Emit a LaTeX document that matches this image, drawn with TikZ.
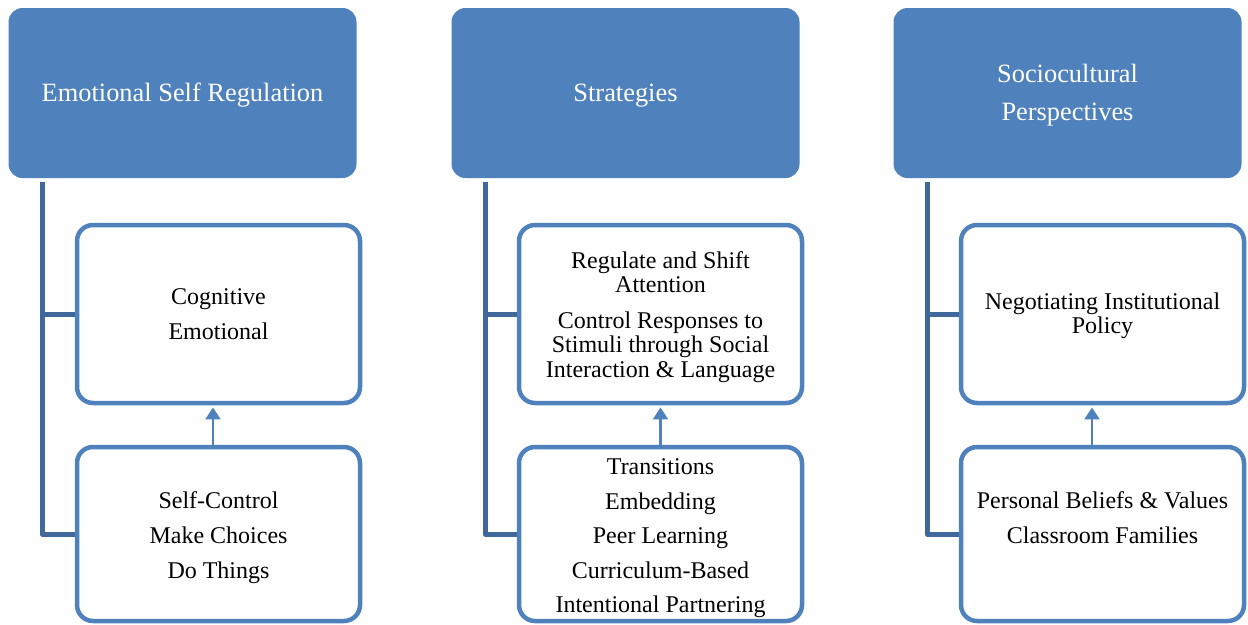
\documentclass[tikz,border=0pt]{standalone}
\usepackage{fontspec}
\setmainfont{Liberation Serif}
\usetikzlibrary{arrows.meta}
\definecolor{hdrblue}{HTML}{4F81BD}
\definecolor{treeblue}{HTML}{41689A}
% invisible rule that lowers a centred text block by half its extra height
\newcommand\toppad[1]{\rule{0pt}{#1}}
\tikzset{
  header/.style={fill=hdrblue, rounded corners=14pt, minimum width=348pt,
    minimum height=170pt, text=white, inner sep=0pt, align=center,
    font=\fontsize{26.4}{38}\selectfont},
  item/.style={draw=hdrblue, line width=4.5pt, rounded corners=16pt, fill=white,
    minimum width=283pt, inner sep=0pt, align=center,
    font=\fontsize{24}{24.5}\selectfont},
  upper/.style={item, minimum height=178pt},
  lower/.style={item, minimum height=174pt},
  tree/.style={draw=treeblue, line width=5pt, line join=round},
  uparrow/.style={draw=hdrblue, line width=2.5pt, shorten >=2.2pt,
    -{Triangle[length=12pt,width=15pt]}}
}
\begin{document}
\begin{tikzpicture}[x=1pt,y=-1pt]
\useasboundingbox (0,0) rectangle (1248,624);

% column headers
\node[header] (h1) at (182.5,93) {\toppad{23.5pt}Emotional Self Regulation};
\node[header] (h2) at (625.5,93) {\toppad{23.5pt}Strategies};
\node[header] (h3) at (1067.5,93) {\toppad{22pt}Sociocultural\\Perspectives};

% tree trunks
\coordinate (t1) at (42,182);
\coordinate (t2) at (485,182);
\coordinate (t3) at (927,182);

% first column
\node[upper] (a1) at (218.5,314) {Cognitive\\[10.5pt]Emotional};
\node[lower] (b1) at (218.5,534) {\toppad{24.5pt}Self-Control\\[10.5pt]Make Choices\\[10.5pt]Do Things};

% second column
\node[upper] (a2) at (660.5,314) {\toppad{22.5pt}Regulate and Shift\\Attention\\[11pt]Control Responses to\\Stimuli through Social\\Interaction \& Language};
\node[lower] (b2) at (660.5,534) {\toppad{24.5pt}Transitions\\[10pt]Embedding\\[10pt]Peer Learning\\[10pt]Curriculum-Based\\[10pt]Intentional Partnering};

% third column
\node[upper] (a3) at (1102.5,314) {\toppad{20.5pt}Negotiating Institutional\\Policy};
\node[lower] (b3) at (1102.5,534) {\toppad{26.5pt}Personal Beliefs \& Values\\[10.5pt]Classroom Families\\[10.5pt]\strut};

% tree connectors
\draw[tree] (t1) |- (b1.west);
\draw[tree] (t1 |- a1.west) -- (a1.west);
\draw[tree] (t2) |- (b2.west);
\draw[tree] (t2 |- a2.west) -- (a2.west);
\draw[tree] (t3) |- (b3.west);
\draw[tree] (t3 |- a3.west) -- (a3.west);

% upward arrows
\draw[uparrow] ([xshift=-5.5pt]b1.north) -- ([xshift=-5.5pt]a1.south);
\draw[uparrow] (b2.north) -- (a2.south);
\draw[uparrow] ([xshift=-10.5pt]b3.north) -- ([xshift=-10.5pt]a3.south);
\end{tikzpicture}
\end{document}
